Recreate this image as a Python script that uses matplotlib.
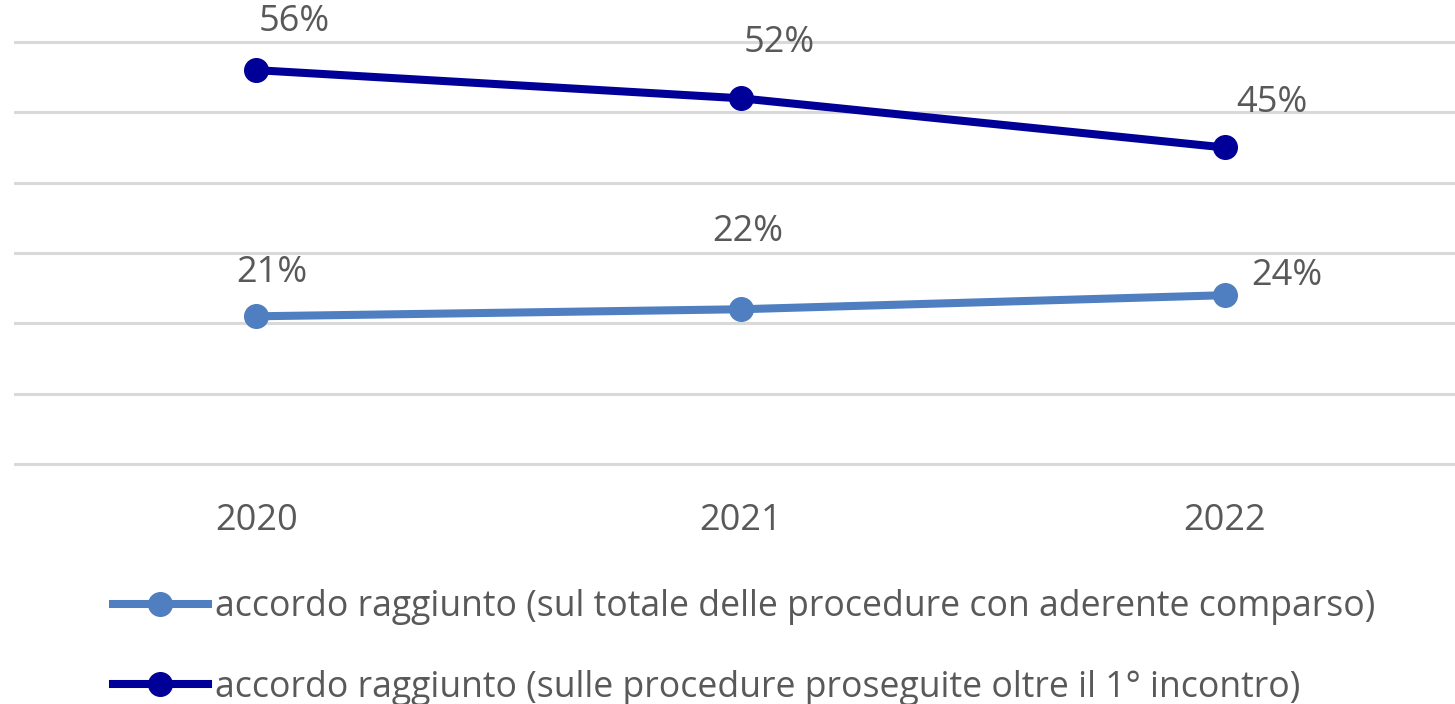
import matplotlib
matplotlib.use("Agg")
import matplotlib.pyplot as plt
from matplotlib.lines import Line2D

plt.rcParams['font.family'] = ['Open Sans', 'DejaVu Sans']

years = ["2020", "2021", "2022"]
comparso = [21, 22, 24]
proseguite = [56, 52, 45]
label_comparso = "accordo raggiunto (sul totale delle procedure con aderente comparso)"
label_proseguite = "accordo raggiunto (sulle procedure proseguite oltre il 1° incontro)"

c_light = "#4F7FC0"
c_dark = "#000099"
txt = "#595959"
grid_c = "#D9D9D9"
FS = 26

W, H = 1455, 704
fig = plt.figure(figsize=(W / 100, H / 100), dpi=100)
# y: 0 -> 464 px, 60 -> 42 px ; pad ylim by 1 unit
ppu = (464 - 42) / 60.0
top_px = 42 - ppu
bot_px = 464 + ppu
ax = fig.add_axes([14 / W, 1 - bot_px / H, 1 - 14 / W, (bot_px - top_px) / H])
ax.set_ylim(-1, 61)
ax.set_xlim(-0.5, (1455 - 257) / 484.0)

for v in range(0, 61, 10):
    ax.axhline(v, color=grid_c, lw=2.2, zorder=0)

x = list(range(len(years)))
ax.plot(x, comparso, color=c_light, lw=5.8, marker='o', ms=17, zorder=3,
        solid_capstyle='round')
ax.plot(x, proseguite, color=c_dark, lw=5.8, marker='o', ms=17, zorder=3,
        solid_capstyle='round')

off_c = [(16, 43), (7, 77), (62, 19)]
off_p = [(38, 48), (39, 55), (47, 44)]
for i, v in enumerate(comparso):
    ax.annotate(f"{v}%", (i, v), xytext=off_c[i], textcoords='offset pixels',
                ha='center', va='center', fontsize=FS, color=txt)
for i, v in enumerate(proseguite):
    ax.annotate(f"{v}%", (i, v), xytext=off_p[i], textcoords='offset pixels',
                ha='center', va='center', fontsize=FS, color=txt)

ax.set_xticks(x)
ax.set_xticklabels(years, fontsize=FS, color=txt)
ax.tick_params(axis='x', length=0, pad=23)
ax.set_yticks([])
for s in ax.spines.values():
    s.set_visible(False)

handles = [Line2D([], [], color=c_light, lw=5.8, marker='o', ms=17),
           Line2D([], [], color=c_dark, lw=5.8, marker='o', ms=17)]
fig.legend(handles, [label_comparso, label_proseguite], loc='upper left',
           bbox_to_anchor=(113 / W, 1 - 589 / H), frameon=False,
           fontsize=25.7, labelcolor=txt, handlelength=2.65, handletextpad=0.2,
           labelspacing=1.25, borderpad=0, borderaxespad=0)

fig.savefig("out.png", dpi=100)
